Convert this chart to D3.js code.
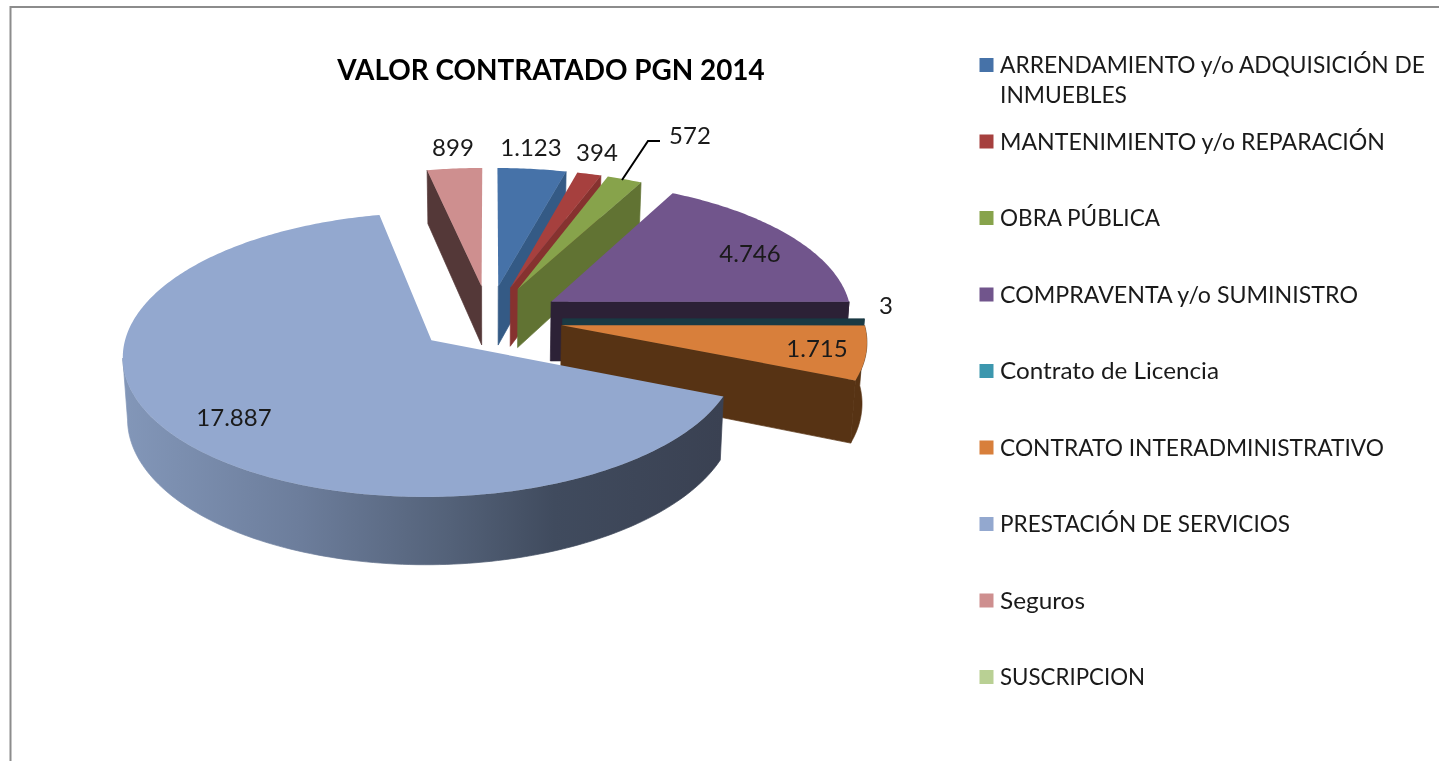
<!DOCTYPE html>
<html lang="es">
<head>
<meta charset="utf-8">
<title>VALOR CONTRATADO PGN 2014</title>
<script src="https://cdn.jsdelivr.net/npm/d3@7/dist/d3.min.js"></script>
<style>
html,body{margin:0;padding:0;background:#fff;overflow:hidden}
svg{display:block;font-family:Lato,"Open Sans",sans-serif;filter:blur(0.4px)}
</style>
</head>
<body>
<svg id="chart" width="1439" height="761"></svg>
<script>
const chartTitle = "VALOR CONTRATADO PGN 2014";
const categories = [
  "ARRENDAMIENTO y/o ADQUISICIÓN DE INMUEBLES",
  "MANTENIMIENTO y/o REPARACIÓN",
  "OBRA PÚBLICA",
  "COMPRAVENTA y/o SUMINISTRO",
  "Contrato de Licencia",
  "CONTRATO INTERADMINISTRATIVO",
  "PRESTACIÓN DE SERVICIOS",
  "Seguros",
  "SUSCRIPCION"
];
const values = [1123, 394, 572, 4746, 3, 1715, 17887, 899, 0];
const topColors  = ["#4672A8","#A6403E","#87A34B","#71558C","#3C97AE","#D87F3B","#93A8CF","#CE8F8F","#B9D094"];
const wallColors = ["#345A85","#86322F","#617333","#2C2136","#1A3A44","#573314","#3A4152","#543838","#6F7F55"];

// layout (not data)
const P = {x0:489, y0:318.7, R:301.6, H:136.4, k:0.1, depth:60, shrink:0.987, explode:0.244};
const labelAt = [[531,147],[597,152],[690,135],[750,253],[886,305],[817,348],[234,417],[453,147]];
const legendX = 979.5, legendTextX = 1000, legendTop = 65, legendStep = 76.5, swatch = 14;
const legendWidths = [[425,127],[385],[160],[358],[219],[384],[290],[85],[145]];

const svg = d3.select("#chart");
const defs = svg.append("defs");
const grad = defs.append("linearGradient").attr("id","bigWall")
  .attr("gradientUnits","userSpaceOnUse").attr("x1",121).attr("x2",722).attr("y1",0).attr("y2",0);
[[0,"#8397B9"],[0.3,"#6C7D9B"],[0.55,"#536178"],[0.72,"#404B5E"],[1,"#3A4152"]].forEach(s=>
  grad.append("stop").attr("offset",s[0]).attr("stop-color",s[1]));

// frame
svg.append("path").attr("d","M10.5,761V7H1439").attr("fill","none").attr("stroke","#8c8c8c").attr("stroke-width",2);

const arcs = d3.pie().sort(null).value(d=>d).startAngle(0).endAngle(2*Math.PI)(values);

// world -> screen projection of the perspective disc
function project(x, y){
  const s = 1/(1 - P.k*y);
  return {X:P.x0 + P.R*x*s, Y:P.y0 + P.H*y*s, s};
}
const topPt = (x,y)=>{const p=project(x,y); return [p.X,p.Y];};
const botPt = (x,y)=>{const p=project(x,y); return [P.x0+(p.X-P.x0)*P.shrink, p.Y+P.depth*p.s];};
const poly = d3.line().curve(d3.curveLinearClosed);

const pie3d = svg.append("g");
arcs.forEach((a,i)=>{
  if(a.value<=0) return;
  const mid=(a.startAngle+a.endAngle)/2;
  const ox=P.explode*Math.sin(mid), oy=-P.explode*Math.cos(mid);
  const rim=t=>[ox+Math.sin(t), oy-Math.cos(t)];
  const g=pie3d.append("g").attr("data-cat",categories[i]);
  const wall=(pts,fill)=>g.append("path").attr("d",poly(pts)).attr("fill",fill).attr("stroke",fill).attr("stroke-width",0.7);
  const deg=t=>t*180/Math.PI;
  const sd=deg(a.startAngle), ed=deg(a.endAngle);
  // outer rim wall
  const a0=Math.max(a.startAngle,Math.PI*0.5), a1=Math.min(a.endAngle,Math.PI*1.46);
  if(a1>a0){
    const ts=d3.range(0,121).map(j=>a0+(a1-a0)*j/120);
    const pts=ts.map(t=>topPt(...rim(t))).concat(ts.slice().reverse().map(t=>botPt(...rim(t))));
    wall(pts, i===6?"url(#bigWall)":wallColors[i]);
  }
  // radial walls
  if(sd>180 && sd<360){
    const r=rim(a.startAngle);
    wall([topPt(ox,oy),topPt(...r),botPt(...r),botPt(ox,oy)],wallColors[i]);
  }
  if(ed>0 && ed<180){
    const r=rim(a.endAngle);
    wall([topPt(ox,oy),topPt(...r),botPt(...r),botPt(ox,oy)],wallColors[i]);
  }
  // top face
  const n=Math.max(2,Math.ceil((a.endAngle-a.startAngle)*80));
  const top=[topPt(ox,oy)].concat(d3.range(0,n+1).map(j=>topPt(...rim(a.startAngle+(a.endAngle-a.startAngle)*j/n))));
  g.append("path").attr("d",poly(top)).attr("fill",topColors[i]);
});

// title
svg.append("text").attr("x",551).attr("y",80).attr("text-anchor","middle")
  .attr("font-size",27.9).attr("font-weight",700).attr("fill","#000").text(chartTitle);

// value labels
const fmt = d3.formatLocale({decimal:",",thousands:".",grouping:[3],currency:["$",""]}).format(",d");
svg.append("g").selectAll("text").data(arcs.filter(a=>a.value>0)).join("text")
  .attr("x",(d,i)=>labelAt[i][0]).attr("y",(d,i)=>labelAt[i][1]).attr("dy","0.36em")
  .attr("text-anchor","middle").attr("font-size",24).attr("fill","#1a1a1a")
  .text(d=>fmt(d.value));

// leader line for OBRA PÚBLICA
const leaderFrom = [622,180], leaderMid=[648,141], leaderTo=[660,141];
svg.append("path").attr("d",d3.line()([leaderFrom,leaderMid,leaderTo]))
  .attr("fill","none").attr("stroke","#000").attr("stroke-width",2);

// legend
const legendLines = [["ARRENDAMIENTO y/o ADQUISICIÓN DE","INMUEBLES"]];
const legend = svg.append("g").selectAll("g").data(categories).join("g")
  .attr("transform",(d,i)=>`translate(0,${legendTop+i*legendStep})`);
legend.append("rect").attr("x",legendX).attr("y",-swatch/2).attr("width",swatch).attr("height",swatch)
  .attr("fill",(d,i)=>topColors[i]);
legend.each(function(d,i){
  const lines = i===0 ? legendLines[0] : [d];
  lines.forEach((l,j)=>{
    d3.select(this).append("text").attr("x",legendTextX).attr("y",j*30).attr("dy","0.36em")
      .attr("font-size",23).attr("fill","#1a1a1a")
      .attr("textLength",legendWidths[i][j]).attr("lengthAdjust","spacingAndGlyphs").text(l);
  });
});
</script>
</body>
</html>
